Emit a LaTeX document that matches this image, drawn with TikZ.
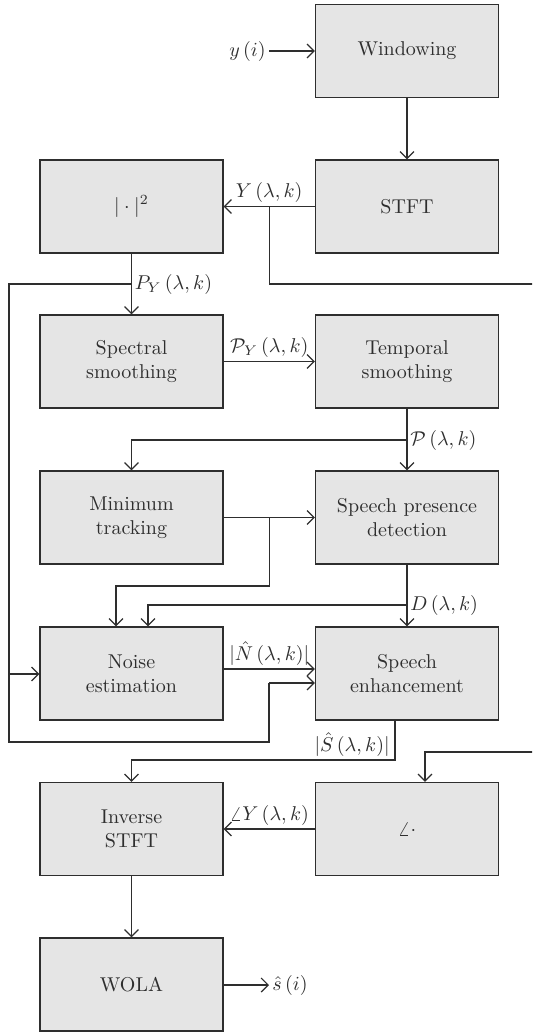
\documentclass[tikz,border=0pt]{standalone}
\usetikzlibrary{calc}
\usetikzlibrary{arrows.meta}

\definecolor{boxgray}{HTML}{E5E5E5}
\definecolor{linegray}{HTML}{2E2E2E}

\tikzset{
  blok/.style={draw=linegray, fill=boxgray, line width=0.6pt, minimum width=91.5pt,
    minimum height=46.5pt, align=center, text=linegray, inner sep=2pt},
  panah/.style={draw=linegray, line width=0.6pt, -{Straight Barb[length=3.5pt,width=7pt]}},
  garis/.style={draw=linegray, line width=0.6pt},
  lbl/.style={text=linegray, inner sep=1.5pt}
}

\begin{document}
\begin{tikzpicture}[x=0.5pt, y=-0.5pt]
    % batas gambar
    \clip (0,0) rectangle (532,1033);

    % blok-blok kolom kanan
    \node[blok] (win)  at (407,51)    {Windowing};
    \node[blok] (stft) at (407,206.5) {STFT};
    \node[blok] (temp) at (407,361.5) {Temporal\\smoothing};
    \node[blok] (spd)  at (407,517.5) {Speech presence\\detection};
    \node[blok] (enh)  at (407,673.5) {Speech\\enhancement};
    \node[blok] (ang)  at (407,829)   {$\angle\cdot$};
    % blok-blok kolom kiri
    \node[blok] (abs)  at (131.5,206.5) {$|\cdot|^2$};
    \node[blok] (spec) at (131.5,361.5) {Spectral\\smoothing};
    \node[blok] (mint) at (131.5,517.5) {Minimum\\tracking};
    \node[blok] (nest) at (131.5,673.5) {Noise\\estimation};
    \node[blok] (istft) at (131.5,829) {Inverse\\STFT};
    \node[blok] (wola) at (131.5,984.5) {WOLA};

    % masukan dan keluaran
    \node[lbl, anchor=east] (yin) at (269,51) {$y\,(i)$};
    \node[lbl, anchor=west] (shat) at (269,985) {$\hat{s}\,(i)$};

    % titik-titik cabang
    \coordinate (bY) at ($(stft.west)!0.5!(abs.east)$);
    \coordinate (bP) at (131.5,284);
    \coordinate (bT) at (407,440);
    \coordinate (bM) at ($(mint.east)!0.5!(spd.west)$);
    \coordinate (bD) at (407,605);

    % alur utama
    \draw[panah] (yin) -- (win);
    \draw[panah] (win) -- (stft);
    \draw[panah] (stft) -- node[lbl, above]{$Y\,(\lambda, k)$} (abs);
    \draw[panah] (abs) -- (spec);
    \node[lbl, anchor=west] (lP) at (bP) {$P_Y\,(\lambda, k)$};
    \draw[panah] (spec) -- node[lbl, above]{$\mathcal{P}_Y\,(\lambda, k)$} (temp);
    \draw[panah] (temp) -- (spd);
    \node[lbl, anchor=west] (lT) at (bT) {$\mathcal{P}\,(\lambda, k)$};
    \draw[panah] (bT) -| (mint);
    \draw[panah] (mint) -- (spd);
    \draw[panah] (spd) -- (enh);
    \node[lbl, anchor=west] (lD) at (bD) {$D\,(\lambda, k)$};
    \draw[panah] (bM) |- (116,586) -- (nest.north -| 116,0);
    \draw[panah] (bD) -| (nest.north -| 148,0);
    \draw[panah] ([yshift=2.25pt]nest.east) -- node[lbl, above]{$|\hat{N}\,(\lambda, k)|$} ([yshift=2.25pt]enh.west);
    \draw[panah] (enh.south -| 395,0) |- (131.5,760) -- (istft);
    \node[lbl, anchor=south east] (lS) at (393,760) {$|\hat{S}\,(\lambda, k)|$};
    \draw[panah] (ang) -- node[lbl, above]{$\angle Y\,(\lambda, k)$} (istft);
    \draw[panah] (istft) -- (wola);
    \draw[panah] (wola.east |- shat) -- (shat);

    % umpan balik kiri
    \draw[garis] (bP) -- (9,284) -- (9,742) -- (269,742) -- (269,683);
    \draw[panah] (269,683) -- (enh.west |- 0,683);
    \draw[panah] (9,674) -- (nest.west |- 0,674);
    % cabang fase di kanan
    \draw[panah] (bY) |- (545,284) |- (425,752) -- (ang.north -| 425,0);
\end{tikzpicture}
\end{document}
